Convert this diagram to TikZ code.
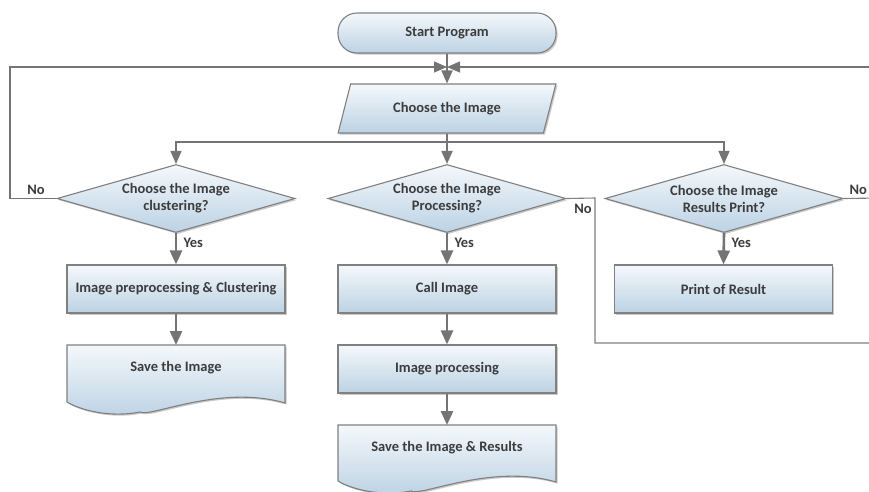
\documentclass[tikz,border=0pt]{standalone}
\usepackage{fontspec}
\setmainfont{Carlito}
\usetikzlibrary{shapes.geometric,arrows.meta,shadows,calc}
\definecolor{lnc}{HTML}{808080}
\definecolor{arc}{HTML}{747474}
\definecolor{txc}{HTML}{3C3C3C}
\definecolor{topc}{HTML}{F4F8FB}
\definecolor{botc}{HTML}{BCD2E4}
\tikzset{
  bigfont/.style={font=\fontsize{14.5}{17}\selectfont\bfseries, text=txc},
  box/.style={draw=lnc, line width=1.1pt, top color=topc, bottom color=botc,
    drop shadow={shadow xshift=1.6pt, shadow yshift=-1.6pt, opacity=0.35, fill=black!60},
    bigfont, align=center},
  procbox/.style={box, rectangle, minimum width=218pt, minimum height=48pt},
  termbox/.style={box, rectangle, rounded corners=19pt, minimum width=218pt, minimum height=40pt},
  iobox/.style={box, trapezium, trapezium left angle=69, trapezium right angle=111,
    trapezium stretches=true, minimum width=218pt, minimum height=49pt},
  decbox/.style={box, diamond, shape aspect=3.5, minimum width=238pt, minimum height=68pt, inner sep=0pt},
  doclabel/.style={bigfont},
  lbl/.style={bigfont},
  thickarr/.style={draw=arc, line width=2.6pt, -{Triangle[length=14pt,width=12pt]}},
  midarr/.style={draw=arc, line width=1.8pt, -{Triangle[length=13pt,width=11pt]}},
  thinline/.style={draw=lnc, line width=1.1pt},
  thinarr/.style={draw=arc, line width=1.1pt, -{Triangle[length=13pt,width=11pt]}},
}
\begin{document}
\begin{tikzpicture}[x=1pt,y=-1pt]
\useasboundingbox (0,0) rectangle (869,491);
\clip (0,0) rectangle (869,491);
\fill[white] (0,0) rectangle (869,491);

% coordinates
\coordinate (junc) at (447,67);
\coordinate (lc) at (10,67);
\coordinate (redge) at (880,67);
\coordinate (br) at (447,142);
\coordinate (mno1) at (595,198);
\coordinate (mno2) at (595,343);
\coordinate (mno3) at (880,343);
\coordinate (rno) at (880,198);

% nodes
\node[termbox] (start) at (447,33) {Start Program};
\node[iobox] (choose) at (447,108.5) {Choose the Image};
\node[decbox] (ldia) at (176,198.5) {Choose the Image\\clustering?};
\node[decbox] (mdia) at (447,198.5) {Choose the Image\\Processing?};
\node[decbox] (rdia) at (724,198.5) {Choose the Image\\Results Print?};
\node[procbox] (lbox) at (176,289) {Image preprocessing \& Clustering};
\node[procbox] (call) at (447,289) {Call Image};
\node[procbox] (rbox) at (723.5,289) {Print of Result};
\node[procbox] (proc) at (447,369) {Image processing};

% document shapes
\path[box] (67,345) -- (285,345) -- (285,403)
  .. controls (220,384) and (150,418) .. (140,412)
  .. controls (110,418) and (80,410) .. (67,402) -- cycle;
\node[doclabel, minimum width=218pt, minimum height=30pt] (lsave) at (176,368) {Save the Image};
\path[box] (338,425) -- (556,425) -- (556,482)
  .. controls (491,463) and (421,497) .. (411,491)
  .. controls (381,497) and (351,489) .. (338,481) -- cycle;
\node[doclabel, minimum width=218pt, minimum height=30pt] (msave) at (447,448) {Save the Image \& Results};

% connectors
\draw[midarr] (start.south) -- (choose.north);
\draw[thinarr] (ldia.west) -| (lc) -- (junc);
\draw[thinarr] (redge) -- (junc);
\draw[midarr] (choose.south) -- (mdia.north);
\draw[thinarr] (br) -| (ldia.north);
\draw[thinarr] (br) -| (rdia.north);
\draw[thinline] (mdia.east) -- (mno1) -- (mno2) -- (mno3);
\draw[thinline] (rdia.east) -- (rno);

\draw[thickarr] (ldia.south) -- (lbox.north);
\draw[thickarr] (mdia.south) -- (call.north);
\draw[thickarr] (rdia.south) -- (rbox.north);
\draw[thickarr] (lbox.south) -- (lsave.north |- 0,345);
\draw[thickarr] (call.south) -- (proc.north);
\draw[thickarr] (proc.south) -- (msave.north |- 0,425);

% labels
\node[lbl, anchor=west] (y1) at (180,243) {Yes};
\node[lbl, anchor=west] (y2) at (451,243) {Yes};
\node[lbl, anchor=west] (y3) at (728,243) {Yes};
\node[lbl] (n1) at (36,190) {No};
\node[lbl] (n2) at (583,209) {No};
\node[lbl, anchor=west] (n3) at (846,190) {No};
\end{tikzpicture}
\end{document}
